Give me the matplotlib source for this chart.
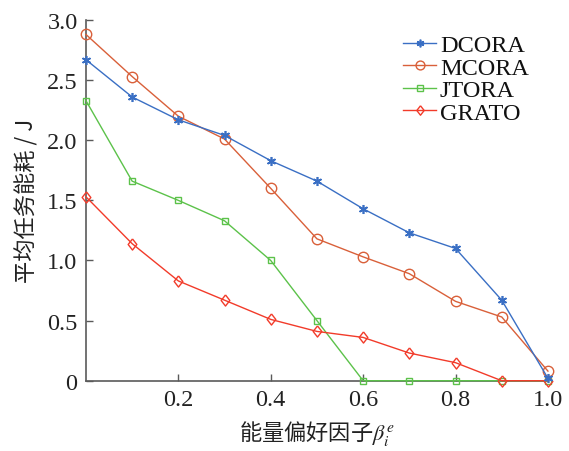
import matplotlib
matplotlib.use("Agg")
import matplotlib.pyplot as plt

plt.rcParams['font.family'] = ['Liberation Serif', 'Noto Sans CJK SC', 'DejaVu Sans']
plt.rcParams['mathtext.fontset'] = 'stix'

# Energy preference factor and average task energy (J)
beta = [0.0, 0.1, 0.2, 0.3, 0.4, 0.5, 0.6, 0.7, 0.8, 0.9, 1.0]
dcora = [2.67, 2.36, 2.17, 2.04, 1.83, 1.66, 1.43, 1.23, 1.10, 0.67, 0.02]
mcora = [2.88, 2.53, 2.20, 2.01, 1.60, 1.18, 1.03, 0.89, 0.66, 0.53, 0.08]
jtora = [2.33, 1.66, 1.50, 1.33, 1.00, 0.50, 0.00, 0.00, 0.00, 0.00, 0.00]
grato = [1.53, 1.14, 0.83, 0.67, 0.51, 0.41, 0.36, 0.23, 0.15, 0.00, 0.00]

xticks = [0.2, 0.4, 0.6, 0.8, 1.0]
xticklabels = ['0.2', '0.4', '0.6', '0.8', '1.0']
yticks = [0, 0.5, 1.0, 1.5, 2.0, 2.5, 3.0]
yticklabels = ['0', '0.5', '1.0', '1.5', '2.0', '2.5', '3.0']

# slightly narrow diamond
diamond = [(0, 1), (0.78, 0), (0, -1), (-0.78, 0), (0, 1)]

fig = plt.figure(figsize=(5.69, 4.52), dpi=100)
ax = fig.add_axes([0.151, 0.1555, 0.812, 0.798])

lw = 1.0
ax.plot(beta, dcora, color='#3a6fc4', lw=lw, marker=(6, 2, 0), ms=6.5, mew=1.2,
        label='DCORA', clip_on=False, zorder=4)
ax.plot(beta, mcora, color='#d9603a', lw=lw, marker='o', ms=7.5, mfc='none', mew=1.0,
        label='MCORA', clip_on=False, zorder=3)
ax.plot(beta, jtora, color='#5cc24a', lw=lw, marker='s', ms=4.8, mfc='none', mew=1.0,
        label='JTORA', clip_on=False, zorder=3)
ax.plot(beta, grato, color='#f23b2a', lw=lw, marker=diamond, ms=8, mfc='none', mew=1.0,
        label='GRATO', clip_on=False, zorder=3)

ax.set_xlim(0, 1.0)
ax.set_ylim(0, 3.0)
ax.set_xticks(xticks)
ax.set_xticklabels(xticklabels)
ax.set_yticks(yticks)
ax.set_yticklabels(yticklabels)

for side in ('top', 'right'):
    ax.spines[side].set_visible(False)
for side in ('left', 'bottom'):
    ax.spines[side].set_color('#5a5a5a')
    ax.spines[side].set_linewidth(1.2)

ax.tick_params(direction='in', length=5, width=1.0, color='#5a5a5a',
               labelsize=17.5, labelcolor='#222222', pad=6)

ax.set_xlabel(r'能量偏好因子$\beta_i^e$', fontsize=16, color='#222222',
              family=['Noto Sans CJK SC', 'DejaVu Sans'], labelpad=6)
ax.set_ylabel('平均任务能耗 / J', fontsize=16, color='#222222',
              family=['Noto Sans CJK SC', 'DejaVu Sans'], labelpad=6)

leg = ax.legend(loc='upper left', bbox_to_anchor=(0.666, 0.988), frameon=False,
                fontsize=17.5, handlelength=1.35, handletextpad=0.15,
                labelspacing=0.02, borderaxespad=0.0, markerscale=0.85)
for t in leg.get_texts():
    t.set_color('#111111')

fig.savefig('out.png', dpi=100)
